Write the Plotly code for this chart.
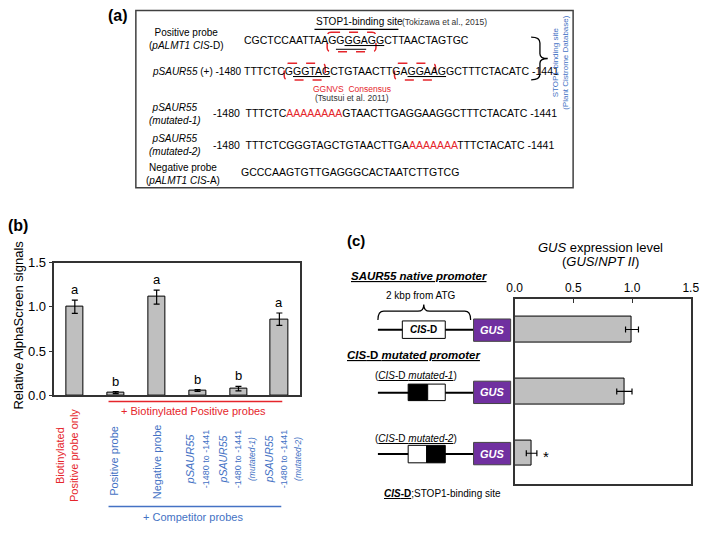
import plotly.graph_objects as go

W, H = 709, 534


def X(px):
    return px / W


def Y(py):
    return 1 - py / H


FONT = "Liberation Sans, Arial, sans-serif"
RED = "#e5252b"
BLUE = "#4472c4"
PURPLE = "#7030a0"
GRAY = "#bfbfbf"
DARK = "#333333"

# ---------------- data ----------------
# (b) AlphaScreen
b_categories = ["Biotinylated Positive probe only", "Positive probe", "Negative probe",
                "pSAUR55 -1480 to -1441", "pSAUR55 -1480 to -1441 (mutated-1)",
                "pSAUR55 -1480 to -1441 (mutated-2)"]
b_values = [1.00, 0.03, 1.11, 0.055, 0.075, 0.86]
b_errors = [0.075, 0.012, 0.08, 0.010, 0.025, 0.07]
b_letters = ["a", "b", "a", "b", "b", "a"]
b_tickvals = [0, 0.5, 1.0, 1.5]
b_ticktext = ["0.0", "0.5", "1.0", "1.5"]

# (c) GUS expression
c_constructs = ["SAUR55 native promoter", "CIS-D mutated-1", "CIS-D mutated-2"]
c_values = [1.00, 0.935, 0.145]
c_errors = [0.055, 0.065, 0.045]
c_tickvals = [0, 0.5, 1.0, 1.5]
c_ticktext = ["0.0", "0.5", "1.0", "1.5"]

fig = go.Figure()

fig.add_trace(go.Bar(
    x=list(range(len(b_values))), y=b_values, width=0.42,
    marker=dict(color=GRAY, line=dict(color="black", width=1)),
    error_y=dict(type="data", array=b_errors, color="black", thickness=1.2, width=3),
    xaxis="x", yaxis="y", showlegend=False, hoverinfo="skip"))

fig.add_trace(go.Bar(
    y=list(range(len(c_values))), x=c_values, orientation="h", width=0.41,
    marker=dict(color=GRAY, line=dict(color="black", width=1)),
    error_x=dict(type="data", array=c_errors, color="black", thickness=1.2, width=3),
    xaxis="x2", yaxis="y2", showlegend=False, hoverinfo="skip"))

shapes = []
annotations = []


def ann(x, y, text, size=10, color="black", xanchor="center", yanchor="middle",
        angle=0, align="center"):
    annotations.append(dict(
        x=X(x), y=Y(y), xref="paper", yref="paper", text=text, showarrow=False,
        xanchor=xanchor, yanchor=yanchor, textangle=angle, align=align,
        font=dict(family=FONT, size=size, color=color)))


def line(x0, y0, x1, y1, color="black", width=1.2, dash=None):
    d = dict(type="line", xref="paper", yref="paper", x0=X(x0), y0=Y(y0), x1=X(x1), y1=Y(y1),
             line=dict(color=color, width=width))
    if dash:
        d["line"]["dash"] = dash
    shapes.append(d)


def rect(x0, y0, x1, y1, fill="rgba(0,0,0,0)", color="black", width=1, dash=None):
    d = dict(type="rect", xref="paper", yref="paper", x0=X(x0), y0=Y(y0), x1=X(x1), y1=Y(y1),
             fillcolor=fill, line=dict(color=color, width=width))
    if dash:
        d["line"]["dash"] = dash
    shapes.append(d)


def rrect(x0, y0, x1, y1, r=4, color=RED, width=1.5):
    p = (f"M {X(x0 + r)},{Y(y0)} L {X(x1 - r)},{Y(y0)} Q {X(x1)},{Y(y0)} {X(x1)},{Y(y0 + r)} "
         f"L {X(x1)},{Y(y1 - r)} Q {X(x1)},{Y(y1)} {X(x1 - r)},{Y(y1)} "
         f"L {X(x0 + r)},{Y(y1)} Q {X(x0)},{Y(y1)} {X(x0)},{Y(y1 - r)} "
         f"L {X(x0)},{Y(y0 + r)} Q {X(x0)},{Y(y0)} {X(x0 + r)},{Y(y0)} Z")
    shapes.append(dict(type="path", xref="paper", yref="paper", path=p,
                       line=dict(color=color, width=width, dash="dash")))


def path(cmds, color="black", width=1.2):
    parts = []
    for c in cmds:
        op = c[0]
        pts = c[1:]
        s = op + " " + " ".join(f"{X(pts[i])},{Y(pts[i + 1])}" for i in range(0, len(pts), 2))
        parts.append(s)
    shapes.append(dict(type="path", xref="paper", yref="paper", path=" ".join(parts),
                       line=dict(color=color, width=width)))


# ---------------- panel (a) ----------------
ann(113, 9, "<b>(a)</b>", size=16)
rect(131, 3.5, 579, 186, color="#404040", width=1.5)

SEQ = 10.5
ann(314, 15, "STOP1-binding site", size=10, xanchor="left")
ann(402, 15.5, "(Tokizawa et al., 2015)", size=8.5, xanchor="left", color="#333")
line(314, 23, 400, 23, width=1.3)

ann(182, 33, "Positive probe<br>(<i>pALMT1 CIS</i>-D)", size=10)
ann(240, 34, "CGCTCCAATTAAGG<u>GGAGG</u>CTTAACTAGTGC", size=SEQ, xanchor="left")
line(336, 43.5, 367, 43.5, width=1)
rrect(327, 26, 377, 46)

ann(146, 66, "<i>pSAUR55</i> (+) -1480", size=10, xanchor="left")
ann(240, 66, "TTTCTCG<u>GGTAG</u>CTGTAACTTGA<u>GGAAG</u>GCTTTCTACATC -1441", size=SEQ, xanchor="left")
rrect(283, 58, 325, 75)
rrect(396, 58, 438, 75)
ann(352, 84, "GGNVS  Consensus", size=8.5, color=RED)
ann(352, 94, "(Tsutsui et al. 2011)", size=8.5, color="#333")

path([("M", 536, 31), ("Q", 545, 31, 545, 37), ("L", 545, 48), ("Q", 545, 53, 553, 53),
      ("Q", 545, 53, 545, 58), ("L", 545, 69), ("Q", 545, 75, 536, 75)], width=1.3)
ann(566, 57, "STOP1-binding site<br>(Plant Cistrome Database)", size=8, color=BLUE, angle=-90)

ann(171, 110, "<i>pSAUR55<br>(mutated-1)</i>", size=10)
ann(208, 109, "-1480  TTTCTC<span style='color:%s'>AAAAAAAA</span>GTAACTTGAGGAAGGCTTTCTACATC -1441" % RED,
    size=SEQ, xanchor="left")
ann(171, 142, "<i>pSAUR55<br>(mutated-2)</i>", size=10)
ann(208, 142, "-1480  TTTCTCGGGTAGCTGTAACTTGA<span style='color:%s'>AAAAAAA</span>TTTCTACATC -1441" % RED,
    size=SEQ, xanchor="left")
ann(179, 171.5, "Negative probe<br>(<i>pALMT1 CIS</i>-A)", size=10)
ann(237, 170, "GCCCAAGTGTTGAGGGCACTAATCTTGTCG", size=SEQ, xanchor="left")

# ---------------- panel (b) ----------------
ann(10, 225, "<b>(b)</b>", size=16)
ann(11, 327, "Relative AlphaScreen signals", size=13, angle=-90)
for i, (v, e, l) in enumerate(zip(b_values, b_errors, b_letters)):
    annotations.append(dict(x=i, y=v + e, xref="x", yref="y", text=l, showarrow=False,
                            yanchor="bottom", yshift=1,
                            font=dict(family=FONT, size=13, color="black")))

line(103, 406, 281, 406, color=RED, width=1.5)
ann(190, 415.5, "+ Biotinylated Positive probes", size=11, color=RED)
ann(60.5, 462, "Biotinylated<br>Positive probe only", size=11, color=RED, angle=-90)
ann(108.5, 467, "Positive probe", size=11, color=BLUE, angle=-90)
ann(152, 468, "Negative probe", size=11, color=BLUE, angle=-90)
ann(194, 465, "<i>pSAUR55</i><br><span style='font-size:9px'>-1480 to -1441</span>",
    size=11, color=BLUE, angle=-90)
ann(235, 465, "<i>pSAUR55</i><br><span style='font-size:9px'>-1480 to -1441</span><br>"
    "<span style='font-size:8.5px'><i>(mutated-1)</i></span>", size=10.5, color=BLUE, angle=-90)
ann(282, 465, "<i>pSAUR55</i><br><span style='font-size:9px'>-1480 to -1441</span><br>"
    "<span style='font-size:8.5px'><i>(mutated-2)</i></span>", size=10.5, color=BLUE, angle=-90)
line(103, 514, 280, 514, color=BLUE, width=1.5)
ann(190, 524.5, "+ Competitor probes", size=11, color=BLUE)

# ---------------- panel (c) ----------------
ann(357, 240, "<b>(c)</b>", size=15)
ann(607, 247, "<i>GUS</i> expression level", size=13)
ann(607, 262, "(<i>GUS</i>/<i>NPT II</i>)", size=13)

ann(349, 277, "<u><b><i>SAUR55 native promoter</i></b></u>", size=11.5, xanchor="left")
ann(423, 297, "2 kbp from ATG", size=10)
path([("M", 379, 322), ("Q", 379, 313, 385, 313), ("L", 420, 313), ("Q", 426, 313, 426, 306),
      ("Q", 426, 313, 432, 313), ("L", 468, 313), ("Q", 474, 313, 474, 322)], width=1.2)
line(379, 332, 477, 332, width=2)
rect(404, 323, 448, 341, fill="white", color="black", width=1)
ann(426, 332, "<b><i>CIS</i>-D</b>", size=10)

ann(345, 358, "<u><b><i>CIS</i>-D <i>mutated promoter</i></b></u>", size=11.5, xanchor="left")
ann(374, 379, "(<u><i>CIS</i>-D <i>mutated-1</i></u>)", size=10, xanchor="left")
line(379, 397, 477, 397, width=2)
rect(410, 388, 430, 405, fill="black", color="black", width=1)
rect(430, 388, 448, 405, fill="white", color="black", width=1)

ann(374, 443.5, "(<u><i>CIS</i>-D <i>mutated-2</i></u>)", size=10, xanchor="left")
line(379, 460, 477, 460, width=2)
rect(410, 451, 429, 469, fill="white", color="black", width=1)
rect(429, 451, 448, 469, fill="black", color="black", width=1)

for yc in (332.5, 396.5, 459.5):
    rect(477, yc - 11.5, 515, yc + 11.5, fill=PURPLE, color="#444", width=1)
    ann(496, yc, "<b><i>GUS</i></b>", size=11, color="white")

annotations.append(dict(x=c_values[2] + c_errors[2], y=2, xref="x2", yref="y2", text="*",
                        showarrow=False, xanchor="center", xshift=9, yshift=-3,
                        font=dict(family=FONT, size=15, color="black")))
ann(383, 501, "<u><b><i>CIS</i>-D</b></u>;STOP1-binding site", size=10, xanchor="left")

axis_common = dict(showgrid=False, zeroline=False, showline=True, mirror=True,
                   linecolor=DARK, linewidth=1.5)

fig.update_layout(
    width=W, height=H, autosize=False,
    margin=dict(l=0, r=0, t=0, b=0, pad=0),
    paper_bgcolor="white", plot_bgcolor="white",
    font=dict(family=FONT, color="black"),
    showlegend=False,
    bargap=0,
    xaxis=dict(domain=[X(47.5), X(299)], range=[-0.5, 5.5], showticklabels=False, ticks="",
               anchor="y", fixedrange=True, **axis_common),
    yaxis=dict(domain=[Y(399.5), Y(263)], range=[0, 1.5], tickvals=b_tickvals, ticktext=b_ticktext,
               ticks="outside", ticklen=4, tickcolor=DARK, tickfont=dict(size=13),
               ticklabeloverflow="allow", anchor="x", fixedrange=True, **axis_common),
    xaxis2=dict(domain=[X(519), X(699.5)], range=[0, 1.5], tickvals=c_tickvals, ticktext=c_ticktext,
                side="top", ticks="inside", ticklen=5, tickcolor=DARK, tickfont=dict(size=12),
                ticklabeloverflow="allow",
                anchor="y2", fixedrange=True, **axis_common),
    yaxis2=dict(domain=[Y(491), Y(300)], range=[2.5, -0.5], showticklabels=False, ticks="",
                anchor="x2", fixedrange=True, **axis_common),
    shapes=shapes,
    annotations=annotations,
)

fig.write_html(
    "out.html",
    config={"displayModeBar": False},
    post_script="document.body.style.margin='0';document.body.style.padding='0';"
                "document.body.style.overflow='hidden';",
)
